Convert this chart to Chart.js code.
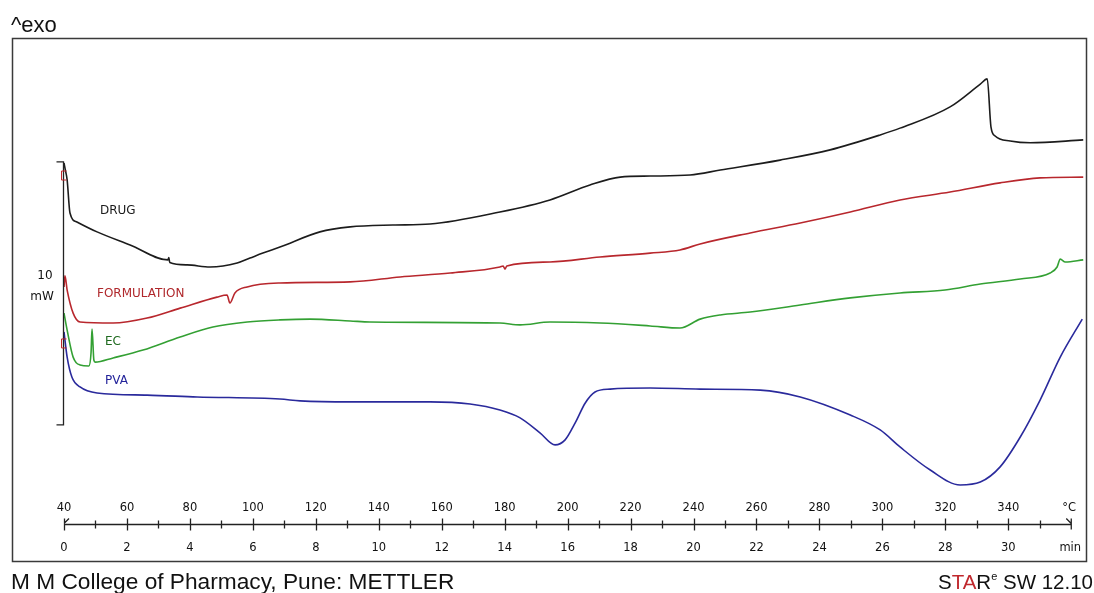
<!DOCTYPE html>
<html lang="en">
<head>
<meta charset="UTF-8">
<title>DSC</title>
<script src="https://cdn.jsdelivr.net/npm/chart.js"></script>
<style>
  html, body { margin: 0; padding: 0; background: #fff; }
  #dsc { display: block; }
</style>
</head>
<body>
<canvas id="dsc" width="1094" height="593"></canvas>
<script>
// time in min, heat flow in mW (offset as on the plot)
var drugT = [0.00, 0.03, 0.10, 0.19, 0.41, 1.05, 2.10, 3.30, 3.33, 3.36, 3.91, 4.64, 5.50, 5.91, 6.32, 6.86, 8.13, 9.09, 10.45, 11.63, 13.85, 15.44, 16.71, 17.67, 18.62, 19.89, 20.85, 22.75, 24.34, 25.93, 26.56, 28.15, 29.11, 29.33, 29.45, 29.58, 30.06, 30.70, 32.38];
var drugY = [15.23, 15.04, 14.58, 13.32, 12.98, 12.60, 12.10, 11.53, 11.62, 11.43, 11.34, 11.26, 11.41, 11.60, 11.79, 12.02, 12.60, 12.79, 12.86, 12.90, 13.36, 13.82, 14.39, 14.69, 14.73, 14.77, 14.96, 15.34, 15.73, 16.30, 16.56, 17.37, 18.24, 18.44, 16.60, 16.26, 16.07, 16.00, 16.11];

var formT = [0.00, 0.03, 0.10, 0.29, 0.51, 1.56, 2.64, 3.69, 4.86, 5.18, 5.27, 5.43, 5.82, 6.86, 9.09, 10.68, 12.27, 13.85, 13.95, 14.01, 14.07, 15.44, 17.03, 18.62, 19.57, 20.21, 21.80, 23.39, 24.98, 26.56, 28.15, 29.74, 31.01, 32.38];
var formY = [10.50, 10.92, 10.38, 9.50, 9.16, 9.12, 9.31, 9.69, 10.11, 10.19, 9.89, 10.27, 10.50, 10.65, 10.69, 10.88, 11.03, 11.26, 11.30, 11.18, 11.30, 11.45, 11.64, 11.79, 11.91, 12.14, 12.56, 12.94, 13.36, 13.82, 14.12, 14.47, 14.66, 14.69];

var ecT = [0.00, 0.10, 0.29, 0.51, 0.79, 0.86, 0.89, 0.95, 0.99, 1.56, 2.51, 3.69, 4.73, 5.82, 6.86, 7.82, 9.09, 9.72, 13.85, 14.49, 15.44, 17.03, 18.62, 19.57, 20.21, 20.85, 21.80, 23.39, 24.98, 26.56, 27.99, 29.11, 30.38, 31.33, 31.55, 31.65, 31.81, 32.38];
var ecY = [9.50, 8.85, 7.82, 7.52, 7.48, 8.00, 8.89, 7.70, 7.63, 7.79, 8.09, 8.59, 8.97, 9.16, 9.24, 9.27, 9.20, 9.16, 9.12, 9.05, 9.16, 9.12, 9.01, 8.93, 9.27, 9.43, 9.54, 9.81, 10.08, 10.27, 10.38, 10.61, 10.80, 11.03, 11.26, 11.56, 11.45, 11.53];

var pvaT = [0.00, 0.10, 0.25, 0.51, 1.05, 2.64, 4.23, 6.86, 7.50, 9.09, 11.63, 12.90, 13.85, 14.49, 15.13, 15.60, 15.92, 16.24, 16.56, 16.87, 17.35, 18.62, 20.21, 22.12, 23.39, 24.98, 25.93, 26.56, 27.52, 28.47, 29.11, 29.74, 30.38, 31.01, 31.65, 32.35];
var pvaY = [8.78, 7.82, 7.06, 6.68, 6.45, 6.37, 6.30, 6.22, 6.15, 6.11, 6.11, 6.03, 5.80, 5.50, 4.92, 4.47, 4.66, 5.31, 6.07, 6.49, 6.60, 6.64, 6.60, 6.56, 6.30, 5.61, 5.04, 4.39, 3.51, 2.94, 3.05, 3.63, 4.77, 6.18, 7.82, 9.27];

var minTicks = [0, 2, 4, 6, 8, 10, 12, 14, 16, 18, 20, 22, 24, 26, 28, 30];
var tempTicks = [40, 60, 80, 100, 120, 140, 160, 180, 200, 220, 240, 260, 280, 300, 320, 340];
var seriesNames = ['DRUG', 'FORMULATION', 'EC', 'PVA'];

function pts(t, y) {
    var out = [];
    for (var i = 0; i < t.length; i++) out.push({ x: t[i], y: y[i] });
    return out;
}

function ds(t, y, color) {
    return {
        data: pts(t, y),
        borderColor: color,
        borderWidth: 1.6,
        pointRadius: 0,
        cubicInterpolationMode: 'monotone',
        fill: false
    };
}

const decor = {
    id: 'decor',
    afterDatasetsDraw(chart) {
        const ctx = chart.ctx;
        const xs = chart.scales.x, ys = chart.scales.y;
        ctx.save();

        // frame
        ctx.strokeStyle = '#3a3a3a';
        ctx.lineWidth = 1.5;
        ctx.strokeRect(12.5, 38.5, 1074, 523);

        // 10 mW scale bar
        var bx = Math.round(xs.getPixelForValue(0)) - 0.5;
        var bt = ys.getPixelForValue(15.27), bb = ys.getPixelForValue(5.23);
        ctx.strokeStyle = '#222';
        ctx.lineWidth = 1.3;
        ctx.beginPath();
        ctx.moveTo(bx - 7, bt); ctx.lineTo(bx, bt); ctx.lineTo(bx, bb); ctx.lineTo(bx - 7, bb);
        ctx.stroke();

        // small red markers at start
        ctx.strokeStyle = '#c0282d';
        ctx.lineWidth = 1;
        [14.77, 8.36].forEach(function (v) {
            var py = ys.getPixelForValue(v);
            ctx.beginPath();
            ctx.moveTo(bx + 3, py - 4); ctx.lineTo(bx - 2, py - 4); ctx.lineTo(bx - 2, py + 5); ctx.lineTo(bx + 3, py + 5);
            ctx.stroke();
        });

        ctx.fillStyle = '#111';
        ctx.font = '12px "DejaVu Sans"';
        ctx.textAlign = 'center';
        ctx.textBaseline = 'middle';
        ctx.fillText('10', 45, 276);
        ctx.fillText('mW', 42, 297);

        // curve labels
        ctx.textAlign = 'left';
        ctx.fillStyle = '#1a1a1a'; ctx.fillText(seriesNames[0], 100, 211);
        ctx.fillStyle = '#b0282c'; ctx.fillText(seriesNames[1], 97, 294);
        ctx.fillStyle = '#1f6a1f'; ctx.fillText(seriesNames[2], 105, 342);
        ctx.fillStyle = '#23239a'; ctx.fillText(seriesNames[3], 105, 381);

        // bottom axis
        var ay = 524.5;
        var x0 = xs.getPixelForValue(0), x1 = xs.getPixelForValue(32);
        ctx.strokeStyle = '#222';
        ctx.lineWidth = 1.3;
        ctx.beginPath();
        ctx.moveTo(x0, ay); ctx.lineTo(x1, ay);
        for (var m = 0; m <= 31; m++) {
            var px = Math.round(xs.getPixelForValue(m)) + 0.5;
            var h = (m % 2 === 0) ? 6 : 4;
            ctx.moveTo(px, ay - h); ctx.lineTo(px, ay + h);
        }
        ctx.moveTo(x0, ay - 1); ctx.lineTo(x0 + 5, ay - 6);
        ctx.moveTo(x1, ay - 6); ctx.lineTo(x1, ay + 5);
        ctx.moveTo(x1, ay - 1); ctx.lineTo(x1 - 5, ay - 6);
        ctx.stroke();

        ctx.fillStyle = '#111';
        ctx.font = '11.5px "DejaVu Sans"';
        ctx.textAlign = 'center';
        for (var i = 0; i < minTicks.length; i++) {
            var tx = xs.getPixelForValue(minTicks[i]);
            ctx.fillText(String(tempTicks[i]), tx, 508);
            ctx.fillText(String(minTicks[i]), tx, 548);
        }
        ctx.fillText('°C', x1 - 2, 508);
        ctx.fillText('min', x1 - 1, 548);

        // header / footer
        ctx.textAlign = 'left';
        ctx.textBaseline = 'alphabetic';
        ctx.font = '22px "Liberation Sans"';
        ctx.fillText('^exo', 11, 32);

        ctx.font = '22.7px "Liberation Sans"';
        ctx.fillText('M M College of Pharmacy, Pune: METTLER', 11, 589);

        var parts = [['S', '#111', 20.5], ['TA', '#c0282d', 20.5], ['R', '#111', 20.5], ['e', '#111', 11], [' SW 12.10', '#111', 20.5]];
        var total = 0;
        parts.forEach(function (p) { ctx.font = p[2] + 'px "Liberation Sans"'; total += ctx.measureText(p[0]).width; });
        var cx = 1093 - total;
        parts.forEach(function (p) {
            ctx.font = p[2] + 'px "Liberation Sans"';
            ctx.fillStyle = p[1];
            ctx.fillText(p[0], cx, p[2] === 11 ? 580 : 589);
            cx += ctx.measureText(p[0]).width;
        });

        ctx.restore();
    }
};

new Chart(document.getElementById('dsc'), {
    type: 'line',
    data: {
        datasets: [
            ds(drugT, drugY, '#1c1c1c'),
            ds(formT, formY, '#b8272d'),
            ds(ecT, ecY, '#33a033'),
            ds(pvaT, pvaY, '#2a2a9c')
        ]
    },
    options: {
        responsive: false,
        animation: false,
        layout: { padding: { left: 64, right: 7, top: 38, bottom: 31 } },
        scales: {
            x: { type: 'linear', min: 0, max: 32.5, display: false },
            y: { min: 0, max: 20, display: false }
        },
        plugins: { legend: { display: false }, tooltip: { enabled: false } }
    },
    plugins: [decor]
});
</script>
</body>
</html>
